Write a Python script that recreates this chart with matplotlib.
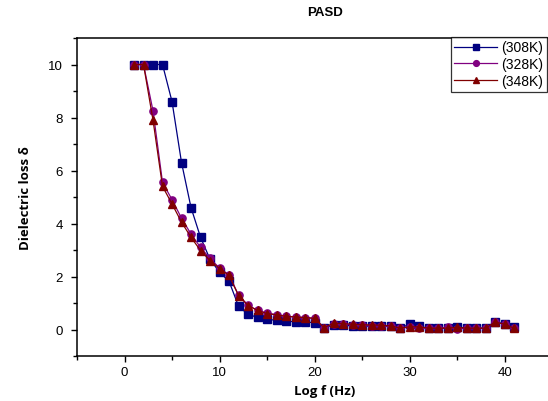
import matplotlib
matplotlib.use("Agg")
import matplotlib.pyplot as plt
from matplotlib.ticker import MultipleLocator

log_f = list(range(1, 42))

loss_308 = [10, 10, 10, 10, 8.6, 6.3, 4.6, 3.48, 2.65, 2.16, 1.82, 0.88, 0.57, 0.46,
            0.38, 0.35, 0.33, 0.28, 0.28, 0.26, 0.05, 0.18, 0.16, 0.14, 0.14, 0.12,
            0.12, 0.12, 0.05, 0.2, 0.12, 0.05, 0.05, 0.05, 0.1, 0.05, 0.05, 0.05,
            0.3, 0.2, 0.08]
loss_328 = [10, 10, 8.25, 5.55, 4.9, 4.2, 3.6, 3.1, 2.68, 2.32, 2.06, 1.3, 0.92, 0.72,
            0.62, 0.56, 0.5, 0.47, 0.45, 0.42, 0.06, 0.22, 0.2, 0.18, 0.16, 0.15,
            0.15, 0.12, 0.05, 0.1, 0.05, 0.05, 0.05, 0.08, 0.02, 0.05, 0.05, 0.05,
            0.28, 0.2, 0.05]
loss_348 = [10, 10, 7.9, 5.4, 4.74, 4.05, 3.48, 2.98, 2.6, 2.3, 2.04, 1.28, 0.9, 0.72,
            0.6, 0.55, 0.5, 0.47, 0.45, 0.42, 0.07, 0.24, 0.22, 0.2, 0.18, 0.17,
            0.16, 0.14, 0.05, 0.1, 0.1, 0.05, 0.05, 0.05, 0.08, 0.05, 0.05, 0.05,
            0.28, 0.2, 0.05]

labels = ["(308K)", "(328K)", "(348K)"]
colors = ["#000080", "#800080", "#800000"]
markers = ["s", "o", "^"]

fig = plt.figure(figsize=(5.48, 4.02), dpi=100)
W, H = 548, 402
ax = fig.add_axes([77 / W, (H - 357) / H, (573 - 77) / W, (357 - 39) / H])

for y, lab, c, m in zip([loss_308, loss_328, loss_348], labels, colors, markers):
    ax.plot(log_f, y, color=c, marker=m, markersize=5.2, linewidth=0.9,
            markeredgecolor=c, label=lab)

ax.set_xlim(-5, 47.2)
ax.set_ylim(-1, 11)
ax.xaxis.set_major_locator(MultipleLocator(10))
ax.xaxis.set_minor_locator(MultipleLocator(5))
ax.yaxis.set_major_locator(MultipleLocator(2))
ax.yaxis.set_minor_locator(MultipleLocator(1))
ax.tick_params(which="both", direction="out", labelsize=9.5, width=1)
ax.tick_params(which="major", length=4)
ax.tick_params(which="minor", length=3)
ax.tick_params(axis="y", pad=6)
for s in ax.spines.values():
    s.set_linewidth(1.1)

for lbl in ax.get_xticklabels() + ax.get_yticklabels():
    lbl.set_fontfamily("Liberation Sans")

ax.set_xlabel("Log f (Hz)", fontsize=9.5, fontweight="bold", family="Open Sans", labelpad=4)
ax.set_ylabel("Dielectric loss δ", fontsize=9.5, fontweight="bold", family="Open Sans", labelpad=12)
fig.text(325 / W, 1 - 13 / H, "PASD", ha="center", va="center", fontsize=9.5,
         fontweight="bold", family="Liberation Sans")

leg = ax.legend(loc="upper right", bbox_to_anchor=(547 / W, 1 - 38 / H),
                bbox_transform=fig.transFigure, frameon=True, fancybox=False,
                edgecolor="black", handlelength=3.1, borderpad=0.25,
                labelspacing=0.2, handletextpad=0.3, borderaxespad=0,
                markerscale=0.8, prop={"family": "Liberation Sans", "size": 10})
leg.get_frame().set_linewidth(0.9)

fig.savefig("out.png", dpi=100)
